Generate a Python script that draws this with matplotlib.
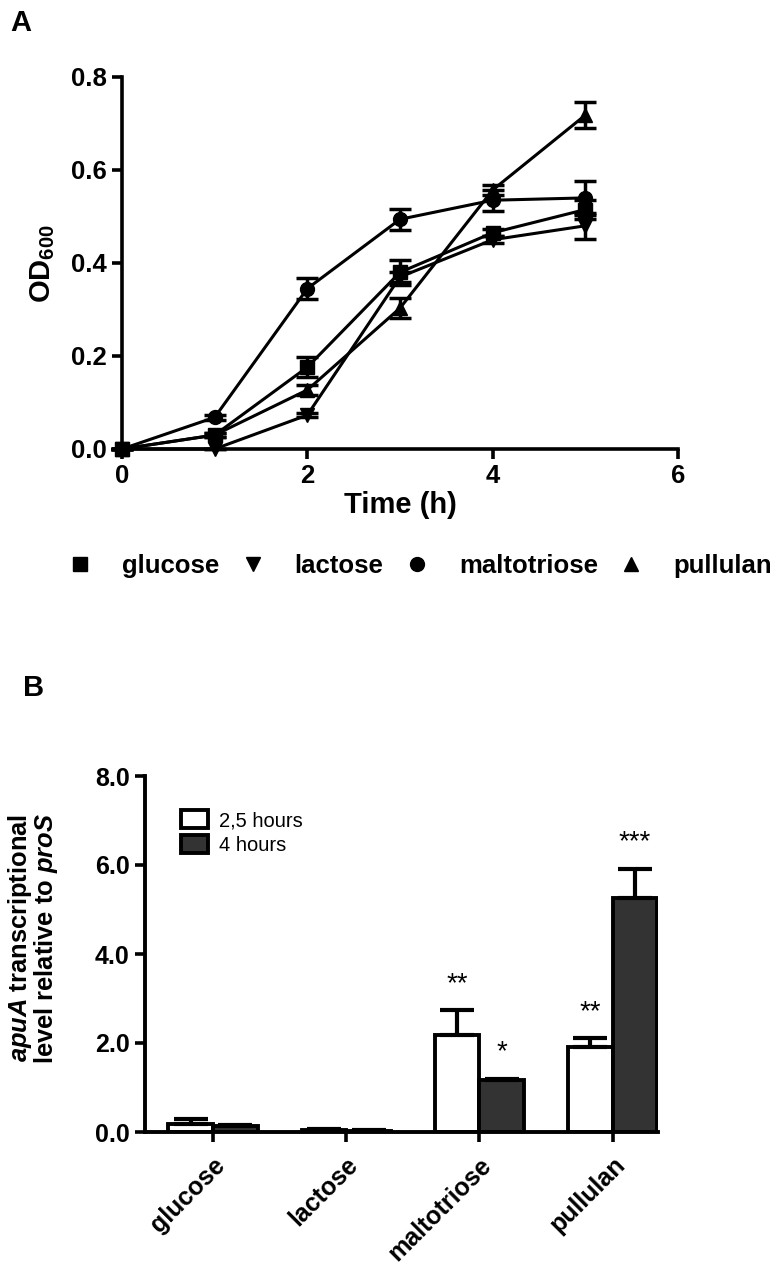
import matplotlib
matplotlib.use("Agg")
import matplotlib.pyplot as plt
from matplotlib.lines import Line2D
from matplotlib.patches import Patch
import numpy as np

plt.rcParams['font.family'] = ['Liberation Sans', 'DejaVu Sans']
plt.rcParams['mathtext.fontset'] = 'custom'
plt.rcParams['mathtext.rm'] = 'Liberation Sans:bold'
plt.rcParams['mathtext.bf'] = 'Liberation Sans:bold'
plt.rcParams['mathtext.it'] = 'Liberation Sans:italic:bold'
plt.rcParams['mathtext.bfit'] = 'Liberation Sans:italic:bold'

# Panel A: growth curves
time_h = [0, 1, 2, 3, 4, 5]
sugars = ["glucose", "lactose", "maltotriose", "pullulan"]
markers = ["s", "v", "o", "^"]
od_glucose = [0.0, 0.03, 0.176, 0.38, 0.465, 0.515]
od_lactose = [0.0, 0.0, 0.073, 0.37, 0.45, 0.48]
od_maltotriose = [0.0, 0.068, 0.345, 0.494, 0.535, 0.54]
od_pullulan = [0.0, 0.03, 0.127, 0.303, 0.557, 0.718]
err_glucose = [0.0, 0.005, 0.022, 0.027, 0.008, 0.02]
err_lactose = [0.0, 0.0, 0.004, 0.01, 0.008, 0.028]
err_maltotriose = [0.0, 0.005, 0.022, 0.023, 0.023, 0.036]
err_pullulan = [0.0, 0.005, 0.01, 0.021, 0.01, 0.028]

# Panel B: apuA expression
cats = ["glucose", "lactose", "maltotriose", "pullulan"]
expr_25h = [0.17, 0.05, 2.18, 1.91]
expr_25h_err = [0.13, 0.02, 0.56, 0.2]
expr_4h = [0.14, 0.03, 1.17, 5.25]
expr_4h_err = [0.02, 0.01, 0.03, 0.66]
stars_25h = ["", "", "**", "**"]
stars_4h = ["", "", "*", "***"]

W, H = 777, 1265
fig = plt.figure(figsize=(W / 100, H / 100), dpi=100)

# ---- panel A ----
ax1 = fig.add_axes([122 / W, 1 - 449 / H, (678 - 122) / W, (449 - 77) / H])
series = [(od_glucose, err_glucose), (od_lactose, err_lactose),
          (od_maltotriose, err_maltotriose), (od_pullulan, err_pullulan)]
for (vals, errs), m in zip(series, markers):
    ax1.errorbar(time_h, vals, yerr=errs, color='black', lw=2.2, marker=m,
                 ms=10, capsize=8, capthick=2.5, elinewidth=2.5, clip_on=False, zorder=3)
ax1.set_xlim(0, 6)
ax1.set_ylim(0, 0.8)
ax1.set_xticks([0, 2, 4, 6])
ax1.set_yticks([0.0, 0.2, 0.4, 0.6, 0.8])
ax1.set_yticklabels(["0.0", "0.2", "0.4", "0.6", "0.8"])
for s in ['top', 'right']:
    ax1.spines[s].set_visible(False)
for s in ['left', 'bottom']:
    ax1.spines[s].set_linewidth(2.6)
ax1.tick_params(width=2.6, length=7, labelsize=18.5, pad=4)
for lab in ax1.get_xticklabels() + ax1.get_yticklabels():
    lab.set_fontweight('bold')
ax1.set_xlabel("Time (h)", fontsize=21, fontweight='bold', labelpad=2)
ax1.set_ylabel("OD$_{600}$", fontsize=21, fontweight='bold', labelpad=10)

handles = [Line2D([], [], color='black', marker=m, ls='none', ms=10) for m in markers]
fig.legend(handles, sugars, loc='center', bbox_to_anchor=(0.54, 1 - 566 / H), ncol=4,
           frameon=False, handlelength=1.0, handletextpad=1.13, columnspacing=0.8,
           prop={'weight': 'bold', 'size': 18.5})

fig.text(10 / W, 1 - 23 / H, "A", fontsize=21, fontweight='bold', va='center')

# ---- panel B ----
ax2 = fig.add_axes([145 / W, 1 - 1132 / H, (658 - 145) / W, (1132 - 776) / H])
x = np.arange(len(cats))
bw = 0.335
ax2.bar(x - bw / 2, expr_25h, bw, color='white', edgecolor='black', lw=2.8,
        yerr=[np.zeros(len(cats)), expr_25h_err], capsize=12,
        error_kw={'elinewidth': 3, 'capthick': 3}, zorder=2)
ax2.bar(x + bw / 2, expr_4h, bw, color='#333333', edgecolor='black', lw=2.8,
        yerr=[np.zeros(len(cats)), expr_4h_err], capsize=12,
        error_kw={'elinewidth': 3, 'capthick': 3}, zorder=2)
for i in range(len(cats)):
    if stars_25h[i]:
        ax2.text(x[i] - bw / 2, expr_25h[i] + expr_25h_err[i] + 0.3, stars_25h[i],
                 ha='center', va='bottom', fontsize=20)
    if stars_4h[i]:
        ax2.text(x[i] + bw / 2, expr_4h[i] + expr_4h_err[i] + 0.3, stars_4h[i],
                 ha='center', va='bottom', fontsize=20)

ax2.set_xlim(-0.51, 3.34)
ax2.set_ylim(0, 8)
ax2.set_yticks([0, 2, 4, 6, 8])
ax2.set_yticklabels(["0.0", "2.0", "4.0", "6.0", "8.0"])
ax2.set_xticks(x)
ax2.set_xticklabels(cats, rotation=45, ha='right', rotation_mode='anchor')
for s in ['top', 'right']:
    ax2.spines[s].set_visible(False)
for s in ['left', 'bottom']:
    ax2.spines[s].set_linewidth(2.8)
ax2.tick_params(width=2.6, length=7, labelsize=18, pad=4)
ax2.tick_params(axis='x', pad=8)
for lab in ax2.get_xticklabels() + ax2.get_yticklabels():
    lab.set_fontweight('bold')
ax2.set_ylabel("$\\mathbfit{apuA}$ transcriptional\nlevel relative to $\\mathbfit{proS}$",
               fontsize=18.4, fontweight='bold', linespacing=0.9)
ax2.yaxis.set_label_coords(-0.165, 0.545)

leg_handles = [Patch(facecolor='white', edgecolor='black', lw=2.8),
               Patch(facecolor='#333333', edgecolor='black', lw=2.8)]
ax2.legend(leg_handles, ["2,5 hours", "4 hours"], loc='upper left',
           bbox_to_anchor=(0.035, 0.955), frameon=False, fontsize=14.5,
           handlelength=1.35, handleheight=1.0, handletextpad=0.55, labelspacing=0.25)

fig.text(23 / W, 1 - 688 / H, "B", fontsize=21, fontweight='bold', va='center')

fig.savefig("out.png", dpi=100)
